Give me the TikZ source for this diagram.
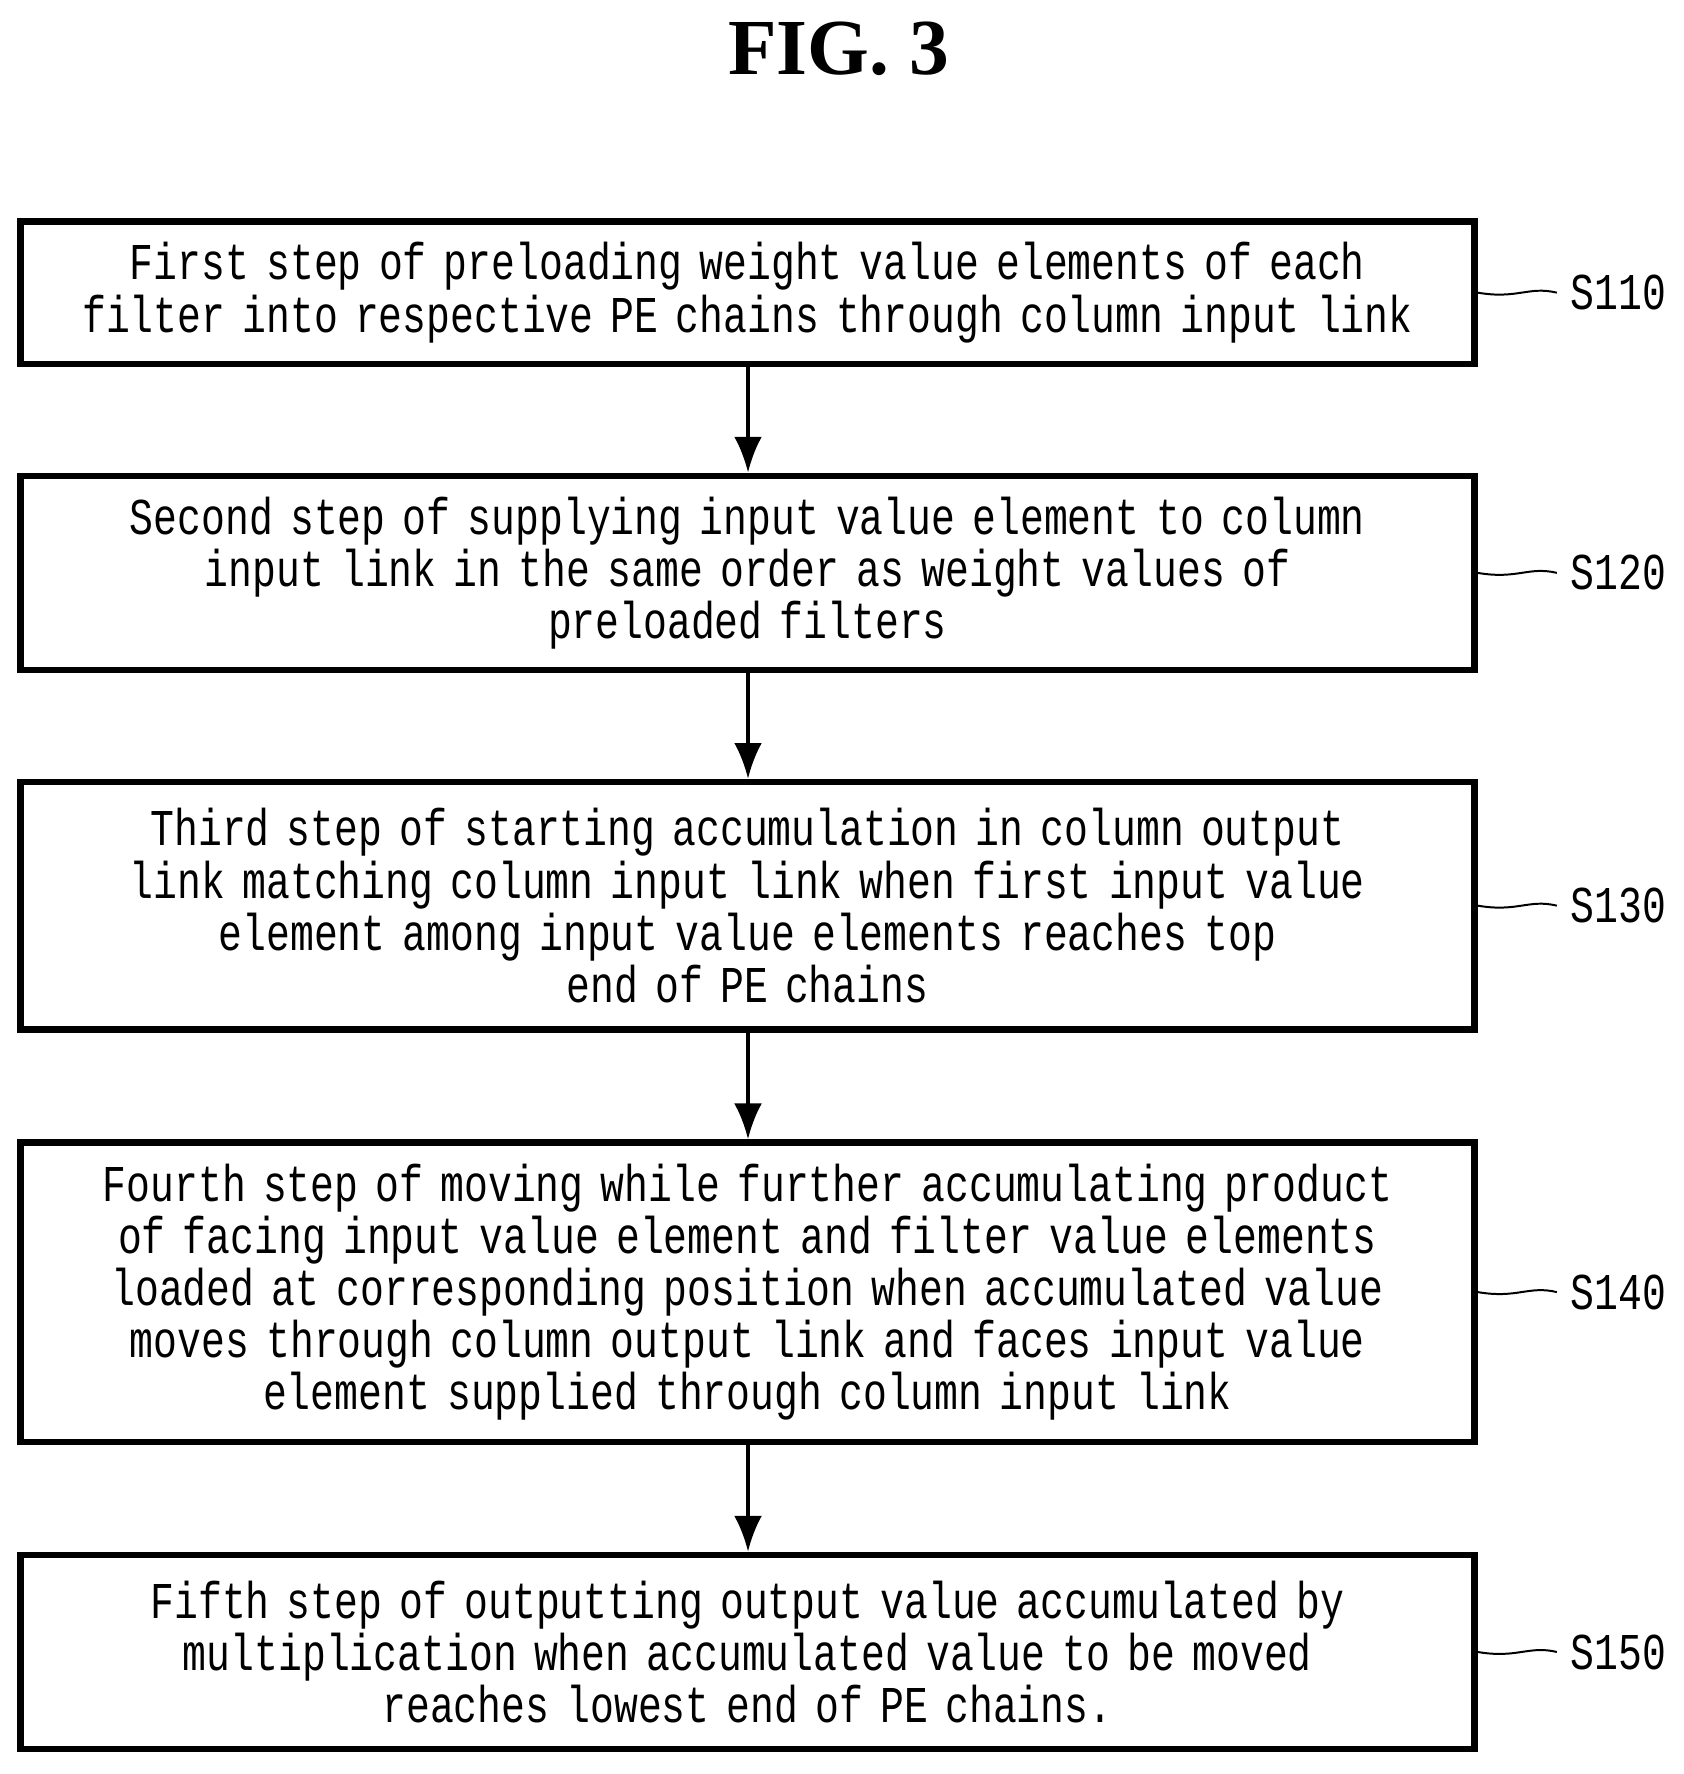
\documentclass[tikz,border=0pt]{standalone}
\usepackage{fontspec}
\setmainfont{Liberation Serif}
\newfontfamily\boxfont[FakeStretch=0.77,WordSpace=1.6]{Liberation Mono}
\usetikzlibrary{arrows.meta}
\begin{document}
\begin{tikzpicture}[x=1cm,y=-1cm,
  stepbox/.style={draw,line width=1.6pt,minimum width=12.87cm,text width=12.8cm,align=center,inner sep=0pt,font=\boxfont\fontsize{13}{13.1}\selectfont},
  conn/.style={-{Latex[length=9pt,width=7pt]},line width=0.9pt},
  lab/.style={font=\boxfont\fontsize{13}{14}\selectfont,anchor=west},
  lead/.style={line width=0.5pt}]
\useasboundingbox (0,0) rectangle (14.9,15.7);
\node[font=\bfseries\fontsize{20}{24}\selectfont] (title) at (7.42,0.43) {FIG. 3};
\node[stepbox,minimum height=1.26cm] (b1) at (6.615,2.59) {First step of preloading weight value elements of each\\filter into respective PE chains through column input link};
\node[stepbox,minimum height=1.72cm] (b2) at (6.615,5.07) {Second step of supplying input value element to column\\input link in the same order as weight values of\\preloaded filters};
\node[stepbox,minimum height=2.19cm] (b3) at (6.615,8.015) {Third step of starting accumulation in column output\\link matching column input link when first input value\\element among input value elements reaches top\\end of PE chains};
\node[stepbox,minimum height=2.65cm] (b4) at (6.615,11.435) {Fourth step of moving while further accumulating product\\of facing input value element and filter value elements\\loaded at corresponding position when accumulated value\\moves through column output link and faces input value\\element supplied through column input link};
\node[stepbox,minimum height=1.72cm] (b5) at (6.615,14.62) {Fifth step of outputting output value accumulated by\\multiplication when accumulated value to be moved\\reaches lowest end of PE chains.};
\foreach \a/\b in {b1/b2,b2/b3,b3/b4,b4/b5}
  \draw[conn] (\a.south -| 6.62,0) -- (\b.north -| 6.62,0);
\foreach \b/\t in {b1/S110,b2/S120,b3/S130,b4/S140,b5/S150}{
  \node[lab] (l\b) at ([xshift=0.7cm]\b.east) {\t};
  \draw[lead] (\b.east) .. controls ([xshift=0.35cm,yshift=-0.06cm]\b.east) and ([xshift=0.45cm,yshift=0.06cm]\b.east) .. (l\b.west);
}
\end{tikzpicture}
\end{document}
